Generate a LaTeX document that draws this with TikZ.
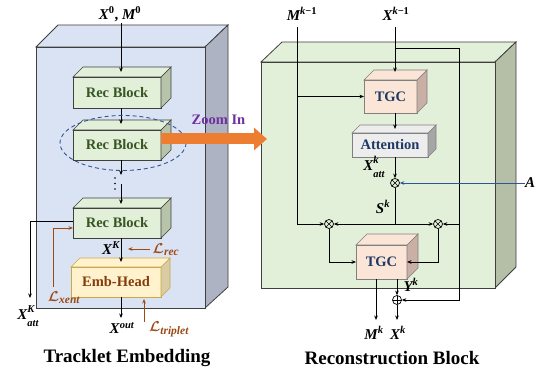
\documentclass[tikz,border=0pt]{standalone}
\usepackage{fontspec}
\usepackage{amsmath}
\usepackage{bm}
\setmainfont{Liberation Serif}
\usetikzlibrary{arrows.meta,calc}
\definecolor{lbfront}{HTML}{DAE3F3}
\definecolor{lbside}{HTML}{ADB3C2}
\definecolor{rbfront}{HTML}{E2EFD9}
\definecolor{rbside}{HTML}{B5BFA8}
\definecolor{bigedge}{HTML}{3F3F3F}
\definecolor{recfill}{HTML}{E2EFD9}
\definecolor{recsidec}{HTML}{B8C4AA}
\definecolor{rectext}{HTML}{375623}
\definecolor{embfill}{HTML}{FFF2CC}
\definecolor{embsidec}{HTML}{D9CBA3}
\definecolor{embedge}{HTML}{C9A94A}
\definecolor{embtext}{HTML}{843C0C}
\definecolor{tgcfill}{HTML}{FBE5D6}
\definecolor{tgcsidec}{HTML}{C9AFA4}
\definecolor{bluetext}{HTML}{1F3864}
\definecolor{attfill}{HTML}{EDEDED}
\definecolor{attsidec}{HTML}{A6A6A6}
\definecolor{lossc}{HTML}{9C4A14}
\definecolor{zoomc}{HTML}{7030A0}
\definecolor{orangec}{HTML}{ED7D31}
\definecolor{ellc}{HTML}{2F5597}
\newcommand{\bv}[1]{\text{\bfseries\itshape #1}}
\newcommand{\sps}[1]{\text{\fontsize{10.5}{12}\selectfont\bfseries\itshape #1}}
\newcommand{\spu}[1]{\text{\fontsize{10.5}{12}\selectfont\bfseries #1}}
\newcommand{\sbs}[1]{\text{\fontsize{11.5}{13}\selectfont\bfseries\itshape #1}}
\newcommand{\Ls}{\bm{\mathcal{L}}}
\newcommand{\attlabel}{%
  \bv{X}\begin{tabular}[c]{@{}l@{}}\raisebox{0pt}[7pt][0pt]{\fontsize{10.5}{12}\selectfont\bfseries\itshape k}\\[-3.5pt]\raisebox{0pt}[6pt][2pt]{\fontsize{10.5}{12}\selectfont\bfseries\itshape att}\end{tabular}}
\newcommand{\attlabelK}{%
  \bv{X}\begin{tabular}[c]{@{}l@{}}\raisebox{0pt}[7pt][0pt]{\fontsize{10.5}{12}\selectfont\bfseries\itshape K}\\[-3.5pt]\raisebox{0pt}[6pt][2pt]{\fontsize{10.5}{12}\selectfont\bfseries\itshape att}\end{tabular}}
\newcommand{\cuboid}[8]{%
  \node[#7front, minimum width=#4pt, minimum height=#5pt] (#1) at (#2,#3) {#8};
  \filldraw[#7side] (#1.north east) -- ++(#6,-#6) -- ++(0,#5) -- (#1.south east) -- cycle;
  \filldraw[#7top] (#1.north west) -- ++(#6,-#6) -- ++(#4,0) -- (#1.north east) -- cycle;
}
\begin{document}
\begin{tikzpicture}[x=1pt,y=-1pt,
  lbl/.style={inner sep=0, font=\fontsize{15}{17}\selectfont\bfseries},
  boxfont/.style={font=\fontsize{14.5}{16}\selectfont\bfseries},
  conn/.style={draw=black, line width=0.8pt, -{Stealth[length=4.5pt,width=3.6pt]}},
  plain/.style={draw=black, line width=0.8pt},
  lossarrow/.style={draw=lossc, line width=0.9pt, -{Stealth[length=4.5pt,width=3.6pt]}},
  recfront/.style={draw=bigedge, line width=0.7pt, fill=recfill, outer sep=0, inner sep=0, text=rectext, boxfont},
  recside/.style={draw=bigedge, line width=0.7pt, fill=recsidec},
  rectop/.style={draw=bigedge, line width=0.7pt, fill=recfill},
  embfront/.style={draw=embedge, line width=0.7pt, fill=embfill, outer sep=0, inner sep=0, text=embtext, boxfont},
  embside/.style={draw=embedge, line width=0.7pt, fill=embsidec},
  embtop/.style={draw=embedge, line width=0.7pt, fill=embfill},
  tgcfront/.style={draw=gray, line width=0.7pt, fill=tgcfill, outer sep=0, inner sep=0, text=bluetext, boxfont},
  tgcside/.style={draw=gray, line width=0.7pt, fill=tgcsidec},
  tgctop/.style={draw=gray, line width=0.7pt, fill=tgcfill},
  attfront/.style={draw=gray, line width=0.7pt, fill=attfill, outer sep=0, inner sep=0, text=bluetext, boxfont},
  attside/.style={draw=gray, line width=0.7pt, fill=attsidec},
  atttop/.style={draw=gray, line width=0.7pt, fill=attfill},
  bigface/.style={draw=bigedge, line width=0.8pt},
  opnode/.style={circle, draw=black, line width=0.7pt, minimum size=9pt, inner sep=0, fill=none},
  otimes/.style={opnode, path picture={\draw[line width=0.6pt] (path picture bounding box.north west) -- (path picture bounding box.south east) (path picture bounding box.north east) -- (path picture bounding box.south west);}},
  oplus/.style={opnode, path picture={\draw[line width=0.6pt] (path picture bounding box.north) -- (path picture bounding box.south) (path picture bounding box.east) -- (path picture bounding box.west);}},
  title/.style={inner sep=0, font=\fontsize{19}{22}\selectfont\bfseries}
]
\useasboundingbox (0,0) rectangle (539,371);
\fill[white] (0,0) rectangle (539,371);

% ---------- left big box ----------
\filldraw[bigface, fill=lbfront] (36,47) -- (58,25) -- (228,25) -- (205,47) -- cycle;
\filldraw[bigface, fill=lbside] (205,47) -- (228,25) -- (228,287) -- (205,308) -- cycle;
\filldraw[bigface, fill=lbfront] (36,47) rectangle (205,308);

% ---------- right big box ----------
\filldraw[bigface, fill=rbfront] (261,62) -- (282,42) -- (516,42) -- (495,62) -- cycle;
\filldraw[bigface, fill=rbside] (495,62) -- (516,42) -- (516,267) -- (495,288) -- cycle;
\filldraw[bigface, fill=rbfront] (261,62) rectangle (495,288);

% ---------- left blocks ----------
\cuboid{rb1}{117}{92.5}{88}{31}{10}{rec}{Rec Block}
\cuboid{rb2}{117}{145}{88}{30}{10}{rec}{Rec Block}
\cuboid{rb3}{117}{223}{88}{30}{10}{rec}{Rec Block}
\cuboid{emb}{116}{282}{90}{30}{9}{emb}{Emb-Head}

% input
\node[lbl] (xin) at (120,14) {$\bv{X}^{\spu{0}}$, $\bv{M}^{\spu{0}}$};
\coordinate (xintop) at (121,23);
\draw[conn] (xintop) -- ([xshift=4pt,yshift=5pt]rb1.north);
\draw[conn] ([xshift=4pt]rb1.south) -- ([xshift=4pt,yshift=6pt]rb2.north);
\coordinate (dotsend) at (121,175);
\draw[conn] ([xshift=4pt]rb2.south) -- (dotsend);
\fill (115,178) circle (0.9pt) (115,183.5) circle (0.9pt) (115,189) circle (0.9pt);
\coordinate (dotsstart) at (121,184);
\draw[conn] (dotsstart) -- ([xshift=4pt,yshift=4pt]rb3.north);

% dashed ellipse
\draw[ellc, line width=0.9pt, dash pattern=on 4pt off 3pt] (123,143) ellipse [x radius=63, y radius=27.5];
% zoom arrow
\node[inner sep=0, text=zoomc, font=\fontsize{14.5}{16}\selectfont\bfseries] (zoomlbl) at (218.5,120) {Zoom In};
\coordinate (zoomtip) at (267,139);
\draw[orangec, line width=11pt, -{Triangle[length=13pt,width=22pt]}] ([yshift=6pt]rb2.east) -- (zoomtip);

% X_att^K branch
\coordinate (xattc) at (30,298);
\draw[conn] ([yshift=2pt]rb3.west) -| (xattc);
\node[lbl] (xattK) at (28,316) {\attlabelK};
% L_xent
\coordinate (lxs) at (53,287);
\draw[lossarrow] (lxs) |- ([yshift=-5pt]rb3.west);
\node[lbl, text=lossc] (lxent) at (64,298) {$\Ls_{\sbs{xent}}$};

% rb3 -> emb
\draw[conn] ([xshift=4pt]rb3.south) -- ([xshift=5pt,yshift=5pt]emb.north);
\node[lbl] (xK) at (111,248) {$\bv{X}^{\sps{K}}$};
\coordinate (lrs) at (150,249);
\coordinate (lre) at (128,249);
\draw[lossarrow] (lrs) -- (lre);
\node[lbl, text=lossc] (lrec) at (166,250) {$\Ls_{\sbs{rec}}$};

% emb output
\coordinate (xoutc) at (121,318);
\draw[conn] ([xshift=5pt]emb.south) -- (xoutc);
\node[lbl] (xout) at (122,328) {$\bv{X}^{\sps{out}}$};
\coordinate (lts) at (144,322);
\coordinate (lte) at (144,299);
\draw[lossarrow] (lts) -- (lte);
\node[lbl, text=lossc] (ltrip) at (169,329) {$\Ls_{\sbs{triplet}}$};

\node[title] (t1) at (127,358) {Tracklet Embedding};

% ---------- right blocks ----------
\cuboid{tgc1}{390.5}{96.5}{53}{33}{10}{tgc}{TGC}
\cuboid{att}{390}{145}{76}{24}{8}{att}{Attention}
\cuboid{tgc2}{381.5}{262}{51}{34}{11}{tgc}{TGC}

\node[otimes] (ox0) at (395,183) {};
\node[otimes] (ox1) at (329,224) {};
\node[otimes] (ox2) at (438,224) {};
\node[oplus] (op) at (397,300) {};

\node[lbl] (mk1) at (302,14) {$\bv{M}^{\sps{k}\spu{−1}}$};
\node[lbl] (xk1) at (396,14) {$\bv{X}^{\sps{k}\spu{−1}}$};

% M^{k-1}
\coordinate (mtop) at (297,27);
\coordinate (mcorner) at (297,224);
\draw[conn] (mtop) -- (mcorner) -- (ox1);
\draw[conn] (tgc1.west -| mtop) -- (tgc1.west);

% X^{k-1}
\coordinate (xtop) at (395,27);
\draw[conn] (xtop) -- ([xshift=4.5pt,yshift=8pt]tgc1.north);
\coordinate (xb1) at (395,48);
\coordinate (xb2) at (459,48);
\draw[conn] (xb1) -- (xb2) |- (op);
\coordinate (xb3) at (459,224);
\draw[conn] (xb3) -- (ox2);

% tgc1 -> att -> ox0
\draw[conn] ([xshift=4.5pt]tgc1.south) -- ([xshift=5pt,yshift=4pt]att.north);
\draw[conn] (att.south -| ox0) -- (ox0);
\node[lbl] (xatt) at (374,167) {\attlabel};

% A
\node[lbl] (alab) at (530,183) {$\bv{A}$};
\draw[draw=ellc, line width=0.8pt, -{Stealth[length=4.5pt,width=3.6pt]}] (alab.west) -- (ox0);

% S^k split
\coordinate (ssplit) at (395,224);
\draw[plain] (ox0) -- (ssplit);
\draw[conn] (ssplit) -- (ox1);
\draw[conn] (ssplit) -- (ox2);
\node[lbl] (sk) at (383,207) {$\bv{S}^{\sps{k}}$};

% to tgc2
\draw[conn] (ox1) |- (tgc2.west);
\draw[conn] (ox2) |- (tgc2.east);

% tgc2 outputs
\coordinate (mkc) at (376,320);
\draw[conn] (tgc2.south -| mkc) -- (mkc);
\draw[conn] (tgc2.south -| op) -- (op);
\node[lbl] (yk) at (411,285) {$\bv{Y}^{\sps{k}}$};
\coordinate (xkc) at (397,320);
\draw[conn] (op) -- (xkc);
\node[lbl] (mk) at (374,333) {$\bv{M}^{\sps{k}}$};
\node[lbl] (xk) at (398,333) {$\bv{X}^{\sps{k}}$};

\node[title] (t2) at (392,358) {Reconstruction Block};
\end{tikzpicture}
\end{document}
